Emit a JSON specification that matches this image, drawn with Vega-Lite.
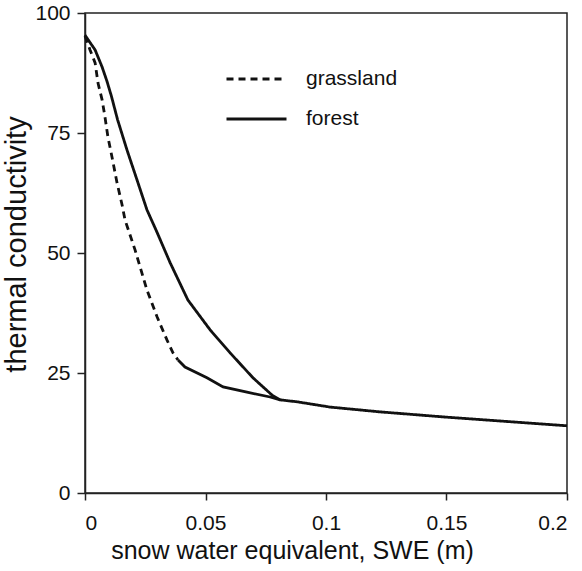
{
  "$schema": "https://vega.github.io/schema/vega-lite/v6.json",
  "width": 482,
  "height": 480,
  "autosize": {"type": "none"},
  "padding": {"left": 85, "top": 13, "right": 15, "bottom": 78},
  "background": "white",
  "config": {
    "view": {"stroke": "#222", "strokeWidth": 1.5},
    "font": "Liberation Sans",
    "axis": {"grid": false, "domainColor": "#222", "domainWidth": 1.5, "tickColor": "#222", "tickWidth": 1.5, "labelFontSize": 21, "labelColor": "#111", "titleColor": "#111", "titleFontWeight": "normal", "labelFont": "Liberation Sans", "titleFont": "Liberation Sans"}
  },
  "data": {"values": [
    {"series": "forest", "part": "main", "swe": 0, "k": 95.4},
    {"series": "forest", "part": "main", "swe": 0.0008, "k": 94.8},
    {"series": "forest", "part": "main", "swe": 0.0042, "k": 92.3},
    {"series": "forest", "part": "main", "swe": 0.0071, "k": 88.75},
    {"series": "forest", "part": "main", "swe": 0.0091, "k": 85.8},
    {"series": "forest", "part": "main", "swe": 0.011, "k": 82.6},
    {"series": "forest", "part": "main", "swe": 0.0135, "k": 77.8},
    {"series": "forest", "part": "main", "swe": 0.0174, "k": 71.5},
    {"series": "forest", "part": "main", "swe": 0.0216, "k": 65.2},
    {"series": "forest", "part": "main", "swe": 0.0257, "k": 59},
    {"series": "forest", "part": "main", "swe": 0.0299, "k": 54.3},
    {"series": "forest", "part": "main", "swe": 0.0353, "k": 48},
    {"series": "forest", "part": "main", "swe": 0.0427, "k": 40.2},
    {"series": "forest", "part": "main", "swe": 0.0519, "k": 34},
    {"series": "forest", "part": "main", "swe": 0.0602, "k": 29.2},
    {"series": "forest", "part": "main", "swe": 0.0697, "k": 24},
    {"series": "forest", "part": "main", "swe": 0.0776, "k": 20.4},
    {"series": "forest", "part": "main", "swe": 0.081, "k": 19.4},
    {"series": "forest", "part": "main", "swe": 0.088, "k": 19.0},
    {"series": "forest", "part": "main", "swe": 0.1017, "k": 17.9},
    {"series": "forest", "part": "main", "swe": 0.1224, "k": 16.9},
    {"series": "forest", "part": "main", "swe": 0.15, "k": 15.8},
    {"series": "forest", "part": "main", "swe": 0.175, "k": 14.9},
    {"series": "forest", "part": "main", "swe": 0.2, "k": 14.0},
    {"series": "grassland", "part": "main", "swe": 0, "k": 95.2},
    {"series": "grassland", "part": "main", "swe": 0.0021, "k": 92.3},
    {"series": "grassland", "part": "main", "swe": 0.0042, "k": 89.6},
    {"series": "grassland", "part": "main", "swe": 0.0054, "k": 85.4},
    {"series": "grassland", "part": "main", "swe": 0.0071, "k": 81.9},
    {"series": "grassland", "part": "main", "swe": 0.0083, "k": 78.3},
    {"series": "grassland", "part": "main", "swe": 0.0095, "k": 74.2},
    {"series": "grassland", "part": "main", "swe": 0.0112, "k": 70},
    {"series": "grassland", "part": "main", "swe": 0.0133, "k": 64.6},
    {"series": "grassland", "part": "main", "swe": 0.0154, "k": 60},
    {"series": "grassland", "part": "main", "swe": 0.0166, "k": 56.9},
    {"series": "grassland", "part": "main", "swe": 0.0208, "k": 50.6},
    {"series": "grassland", "part": "main", "swe": 0.0257, "k": 42.3},
    {"series": "grassland", "part": "main", "swe": 0.0299, "k": 36.7},
    {"series": "grassland", "part": "main", "swe": 0.034, "k": 31.9},
    {"series": "grassland", "part": "main", "swe": 0.0365, "k": 29.2},
    {"series": "grassland", "part": "main", "swe": 0.0386, "k": 27.7},
    {"series": "grassland", "part": "tail", "swe": 0.0386, "k": 27.7},
    {"series": "grassland", "part": "tail", "swe": 0.0415, "k": 26.25},
    {"series": "grassland", "part": "tail", "swe": 0.0506, "k": 24},
    {"series": "grassland", "part": "tail", "swe": 0.0573, "k": 22.1},
    {"series": "grassland", "part": "tail", "swe": 0.0672, "k": 21},
    {"series": "grassland", "part": "tail", "swe": 0.0768, "k": 20},
    {"series": "grassland", "part": "tail", "swe": 0.081, "k": 19.4}
  ]},
  "encoding": {
    "x": {"field": "swe", "type": "quantitative", "scale": {"domain": [0, 0.2], "nice": false},
      "axis": {"values": [0, 0.05, 0.1, 0.15, 0.2], "format": "~g", "title": "snow water equivalent, SWE (m)", "tickSize": 7, "labelPadding": 12, "titlePadding": 5, "titleFontSize": 25, "titleX": 207, "titleAlign": "center"}},
    "y": {"field": "k", "type": "quantitative", "scale": {"domain": [0, 100], "nice": false},
      "axis": {"values": [0, 25, 50, 75, 100], "title": "thermal conductivity", "tickSize": 8, "labelPadding": 7, "titlePadding": 3, "titleFontSize": 29, "titleY": 231, "titleAlign": "center"}}
  },
  "layer": [
    {
      "transform": [{"filter": "datum.part == 'main'"}],
      "mark": {"type": "line", "color": "#111", "strokeWidth": 2.8},
      "encoding": {
        "strokeDash": {"field": "series", "type": "nominal",
          "scale": {"domain": ["grassland", "forest"], "range": [[7, 5], [1, 0]]},
          "legend": {"title": null, "orient": "none", "legendX": 140, "legendY": 56, "symbolType": "stroke", "symbolSize": 3600, "symbolStrokeWidth": 3, "symbolStrokeColor": "#111", "labelFontSize": 21, "labelColor": "#111", "labelOffset": 18, "clipHeight": 20, "rowPadding": 19, "labelFont": "Liberation Sans"}}
      }
    },
    {
      "transform": [{"filter": "datum.part == 'tail'"}],
      "mark": {"type": "line", "color": "#111", "strokeWidth": 2.8},
      "encoding": {"detail": {"field": "series"}}
    }
  ]
}
